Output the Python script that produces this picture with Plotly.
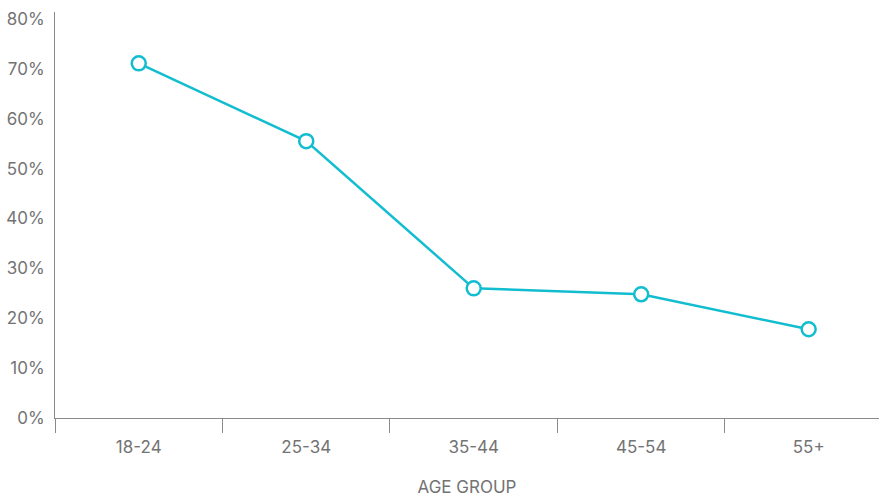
import plotly.graph_objects as go

age_groups = ["18-24", "25-34", "35-44", "45-54", "55+"]
share_pct = [71.1, 55.5, 26.0, 24.8, 17.8]
y_ticks = [0, 10, 20, 30, 40, 50, 60, 70, 80]
y_tick_labels = [f"{v}%" for v in y_ticks]

line_color = "#12BDD0"
axis_color = "#8a8a8a"
text_color = "#737373"
font_family = "Inter, Lato, sans-serif"

fig = go.Figure(
    go.Scatter(
        x=age_groups,
        y=share_pct,
        mode="lines+markers",
        line=dict(color=line_color, width=2.5),
        marker=dict(symbol="circle", size=14, color="white",
                    line=dict(color=line_color, width=2.5)),
        hoverinfo="skip",
        cliponaxis=False,
    )
)

fig.update_layout(
    width=879,
    height=497,
    margin=dict(l=55, r=0, t=12, b=79),
    plot_bgcolor="white",
    paper_bgcolor="white",
    showlegend=False,
    font=dict(family=font_family, size=17, color=text_color),
)

fig.update_xaxes(
    type="category",
    range=[-0.5, 4.42],
    showgrid=False,
    zeroline=False,
    showline=True,
    linecolor=axis_color,
    linewidth=1,
    ticks="outside",
    tickson="boundaries",
    ticklen=14,
    tickcolor=axis_color,
    tickwidth=1,
    ticklabelstandoff=14,
    tickfont=dict(size=17, color=text_color),
    title=dict(text="AGE GROUP", font=dict(size=17, color=text_color), standoff=24),
)

fig.update_yaxes(
    range=[0, 81.4],
    tickvals=y_ticks,
    ticktext=y_tick_labels,
    showgrid=False,
    zeroline=False,
    showline=True,
    linecolor=axis_color,
    linewidth=1,
    ticks="",
    ticklabelstandoff=6,
    tickfont=dict(size=17, color=text_color),
)

fig.write_html("out.html")
